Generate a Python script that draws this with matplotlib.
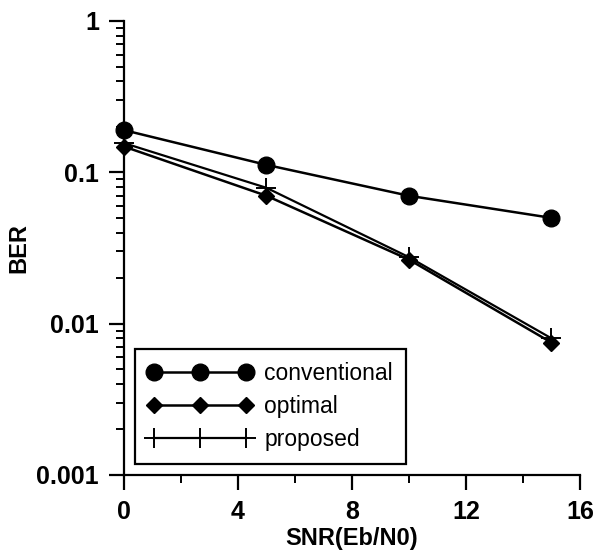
import matplotlib
matplotlib.use('Agg')
import matplotlib.pyplot as plt
from matplotlib.ticker import LogLocator, NullFormatter, MultipleLocator

plt.rcParams['font.family'] = ['Liberation Sans', 'DejaVu Sans']

# data
snr = [0, 5, 10, 15]
ber_conventional = [0.19, 0.112, 0.070, 0.050]
ber_optimal = [0.148, 0.070, 0.0265, 0.0075]
ber_proposed = [0.156, 0.079, 0.0275, 0.0080]

fig = plt.figure(figsize=(5.96, 5.52), dpi=100)
ax = fig.add_axes([0.208, 0.1395, 0.765, 0.8225])

ax.plot(snr, ber_conventional, 'k-', lw=1.8, marker='o', ms=12, label='conventional', clip_on=False, zorder=3)
ax.plot(snr, ber_optimal, 'k-', lw=1.8, marker='D', ms=8.5, label='optimal', clip_on=False, zorder=3)
ax.plot(snr, ber_proposed, 'k-', lw=1.6, marker='+', ms=15, mew=1.4, label='proposed', clip_on=False, zorder=4)

ax.set_yscale('log')
ax.set_xlim(0, 16)
ax.set_ylim(0.001, 1)

ax.xaxis.set_major_locator(MultipleLocator(4))
ax.xaxis.set_minor_locator(MultipleLocator(2))
ax.yaxis.set_major_locator(LogLocator(base=10))
ax.yaxis.set_minor_locator(LogLocator(base=10, subs=range(2, 10)))
ax.yaxis.set_minor_formatter(NullFormatter())
ax.set_yticks([0.001, 0.01, 0.1, 1])
ax.set_yticklabels(['0.001', '0.01', '0.1', '1'])

for s in ['top', 'right']:
    ax.spines[s].set_visible(False)
for s in ['left', 'bottom']:
    ax.spines[s].set_linewidth(1.6)

ax.tick_params(which='major', direction='out', length=11, width=1.6, labelsize=18, pad=7)
ax.tick_params(which='minor', direction='out', length=6, width=1.4)
for lab in ax.get_xticklabels() + ax.get_yticklabels():
    lab.set_fontweight('bold')

ax.set_xlabel('SNR(Eb/N0)', fontsize=17, fontweight='bold', labelpad=2)
ax.set_ylabel('BER', fontsize=17, fontweight='bold', labelpad=4)

leg = ax.legend(loc='lower left', bbox_to_anchor=(0.024, 0.024), borderaxespad=0,
                numpoints=3, handlelength=4.6, fontsize=16.5, fancybox=False,
                edgecolor='black', framealpha=1, labelspacing=0.45, handletextpad=0.5,
                borderpad=0.55)
leg.get_frame().set_linewidth(1.6)

fig.savefig('out.png', dpi=100)
